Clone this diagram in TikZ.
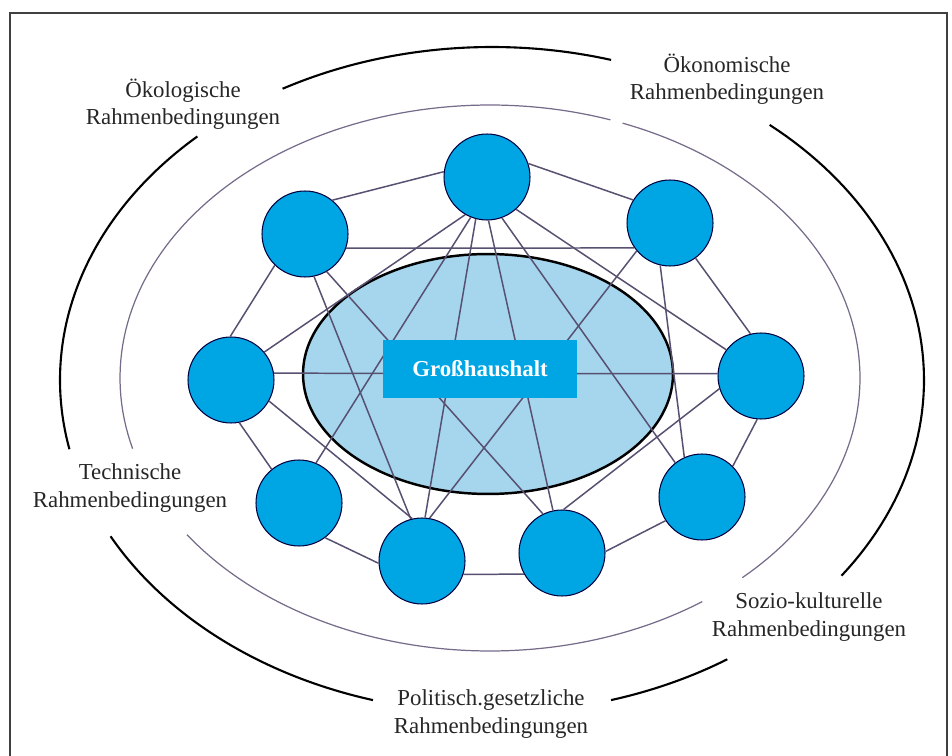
\documentclass[tikz,border=0pt]{standalone}
\usepackage{fontspec}
\setmainfont{Liberation Serif}
\usetikzlibrary{calc}
\usetikzlibrary{shapes.geometric}

\definecolor{akteurblau}{RGB}{0,165,228}
\definecolor{kernblau}{RGB}{165,214,237}
\definecolor{linie}{RGB}{88,80,112}
\definecolor{ringgrau}{RGB}{118,108,138}

\tikzset{
  akteur/.style={circle, draw=black!75!blue, fill=akteurblau, line width=0.6pt, minimum size=1.72cm, inner sep=0pt},
  link/.style={linie, line width=0.85pt},
  rahmen/.style={align=center, text=black!85, font=\fontsize{13}{15.5}\selectfont}
}

\begin{document}
\begin{tikzpicture}[x=0.02cm, y=-0.02cm]
    \useasboundingbox (0,0) rectangle (952,756);

    % Frame
    \draw[black!75, line width=1.1pt] (10,756) -- (10,13) -- (947,13) -- (947,756);

    % Outer ring (black), broken for the labels
    \foreach \a/\b in {-119/-74, -50/36, 57/74, 106/152, 168/227}
        \draw[black, line width=1.2pt] plot[domain=\a:\b, samples=60, variable=\t] ({492+432*cos(\t)}, {380+333*sin(\t)});

    % Inner ring (grey)
    \foreach \a/\b in {165/289, 291/407, 415/505}
        \draw[ringgrau, line width=0.7pt] plot[domain=\a:\b, samples=80, variable=\t] ({490+370*cos(\t)}, {378+273*sin(\t)});

    % Core ellipse
    \node[ellipse, draw=black, line width=1.4pt, fill=kernblau, minimum width=7.4cm, minimum height=4.8cm] (hh) at (488,374) {};

    % Actors around the household
    \node[akteur] (a1) at (487,177) {};
    \node[akteur] (a2) at (305,234) {};
    \node[akteur] (a3) at (670,223) {};
    \node[akteur] (a4) at (231,380) {};
    \node[akteur] (a5) at (761,376) {};
    \node[akteur] (a6) at (299,503) {};
    \node[akteur] (a7) at (422,561) {};
    \node[akteur] (a8) at (562,553) {};
    \node[akteur] (a9) at (702,497) {};

    % Outer polygon
    \draw[link] (a1.173) -- (a2.51);
    \draw[link] (a1.18) -- (a3.148);
    \draw[link] (a3.-54) -- (a5.104);
    \draw[link] (a5.-95) -- (a9.45);
    \draw[link] (a9.213) -- (a8.2);
    \draw[link] (a8.209) -- (a7.-18);
    \draw[link] (a7.183) -- (a6.-53);
    \draw[link] (a6.129) -- (a4.-79);
    \draw[link] (a4.91) -- (a2.226);

    % Cross connections
    \draw[link] (a2.-19) -- (a3.215);
    \draw[link] (a4.9) -- (a5.177);
    \draw[link] (a1.-120) -- (a4.40);
    \draw[link] (a1.-112) -- (a6.67);
    \draw[link] (a1.-105) -- (a7.86);
    \draw[link] (a1.-88) -- (a8.102);
    \draw[link] (a1.-70) -- (a9.128);
    \draw[link] (a1.-48) -- (a5.143);
    \draw[link] (a2.-78) -- (a7.105);
    \draw[link] (a2.-60) -- (a8.116);
    \draw[link] (a3.220) -- (a7.80);
    \draw[link] (a3.-103) -- (a9.114);
    \draw[link] (a4.-29) -- (a7.103);
    \draw[link] (a5.197) -- (a8.88);

    % Label of the core
    \node[fill=akteurblau, minimum width=3.9cm, minimum height=1.16cm, text=white, font=\bfseries\fontsize{13}{15}\selectfont] (gross) at (480,369) {Großhaushalt};

    % Frame conditions
    \node[rahmen] (oeko)  at (183,104) {Ökologische\\Rahmenbedingungen};
    \node[rahmen] (oekon) at (727,79)  {Ökonomische\\Rahmenbedingungen};
    \node[rahmen] (tech)  at (130,488) {Technische\\Rahmenbedingungen};
    \node[rahmen] (sozio) at (809,617) {Sozio-kulturelle\\Rahmenbedingungen};
    \node[rahmen] (polit) at (491,714) {Politisch.gesetzliche\\Rahmenbedingungen};
\end{tikzpicture}
\end{document}
